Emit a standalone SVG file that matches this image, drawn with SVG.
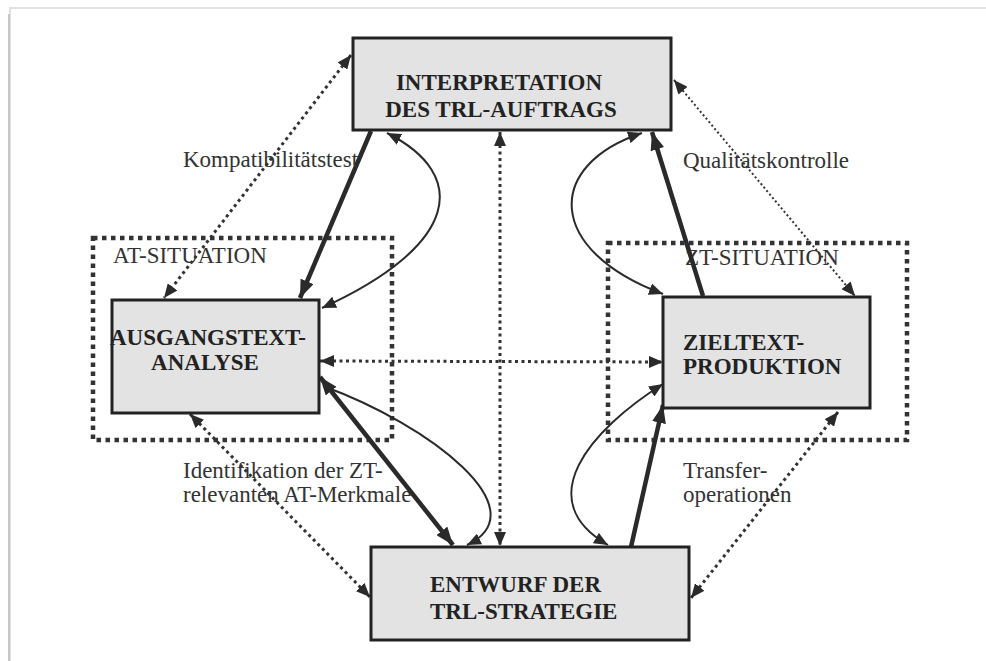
<svg xmlns="http://www.w3.org/2000/svg" width="986" height="661" viewBox="0 0 986 661">
<defs>
<style>
.box{fill:#e3e3e3;stroke:#222;stroke-width:3}
.sit{fill:none;stroke:#333;stroke-width:4.5;stroke-dasharray:4.5 4.5}
.title{font-family:"Liberation Serif","Times New Roman",serif;font-weight:bold;font-size:23px;fill:#222}
.lbl{font-family:"Liberation Serif","Times New Roman",serif;font-size:23px;fill:#333}
.dot{fill:none;stroke:#333;stroke-width:3;stroke-dasharray:3 3.5}
.dotf{fill:none;stroke:#333;stroke-width:2;stroke-dasharray:2 2.5}
.thin{fill:none;stroke:#2a2a2a;stroke-width:2}
.thick{fill:none;stroke:#2a2a2a;stroke-width:4.5}
</style>
<marker id="ah" markerUnits="userSpaceOnUse" viewBox="0 0 14 12" refX="14" refY="6" markerWidth="14" markerHeight="12" orient="auto-start-reverse"><path d="M0,0 L14,6 L0,12 z" fill="#2a2a2a"/></marker>
<marker id="ahb" markerUnits="userSpaceOnUse" viewBox="0 0 18 14" refX="18" refY="7" markerWidth="18" markerHeight="14" orient="auto-start-reverse"><path d="M0,0 L18,7 L0,14 z" fill="#2a2a2a"/></marker>
</defs>
<rect width="986" height="661" fill="#fff"/>
<path d="M10,661 L10,8 L986,8" fill="none" stroke="#e2e2e2" stroke-width="2"/>
<line x1="9" y1="14" x2="9" y2="661" stroke="#c8c8c8" stroke-width="2"/>

<g id="at-situation">
<rect class="sit" x="93" y="238" width="299" height="202"/>
<text class="lbl" x="113" y="263">AT-SITUATION</text>
</g>
<g id="zt-situation">
<rect class="sit" x="608" y="243" width="299" height="197"/>
<text class="lbl" x="685" y="265">ZT-SITUATION</text>
</g>

<g id="connectors">
<line class="dot" x1="351" y1="55" x2="164" y2="298" marker-start="url(#ah)" marker-end="url(#ah)"/>
<line class="dotf" x1="674" y1="80" x2="855" y2="296" marker-start="url(#ah)" marker-end="url(#ah)"/>
<line class="dot" x1="190" y1="414" x2="370" y2="597" marker-start="url(#ah)" marker-end="url(#ah)"/>
<line class="dot" x1="838" y1="412" x2="691" y2="598" marker-start="url(#ah)" marker-end="url(#ah)"/>
<line class="dot" x1="500" y1="132" x2="500" y2="546" marker-start="url(#ah)" marker-end="url(#ah)"/>
<line class="dot" x1="320" y1="361" x2="663" y2="362" marker-start="url(#ah)" marker-end="url(#ah)"/>
<line class="thick" x1="371" y1="131" x2="300" y2="298" stroke-width="3.5" marker-end="url(#ahb)"/>
<path class="thin" d="M387,133 C470,175 460,245 322,308" marker-start="url(#ah)" marker-end="url(#ah)"/>
<line class="thick" x1="320" y1="377" x2="453" y2="545" marker-start="url(#ahb)" marker-end="url(#ahb)"/>
<path class="thin" d="M323,386 C430,425 540,510 467,545" marker-end="url(#ah)"/>
<line class="thick" x1="703" y1="296" x2="652" y2="132" marker-end="url(#ahb)"/>
<path class="thin" d="M642,133 C545,165 545,250 663,294" marker-start="url(#ah)" marker-end="url(#ah)"/>
<line class="thick" x1="631" y1="547" x2="663" y2="405" marker-end="url(#ahb)"/>
<path class="thin" d="M663,384 C590,430 530,500 608,545" marker-start="url(#ah)" marker-end="url(#ah)"/>
</g>

<g id="interpretation">
<rect class="box" x="353" y="38" width="318" height="92"/>
<text class="title" x="499" y="90" text-anchor="middle">INTERPRETATION</text>
<text class="title" x="501" y="117" text-anchor="middle">DES TRL-AUFTRAGS</text>
</g>
<g id="ausgangstext">
<rect class="box" x="112" y="300" width="207" height="113"/>
<text class="title" x="208" y="345" text-anchor="middle">AUSGANGSTEXT-</text>
<text class="title" x="205" y="370" text-anchor="middle">ANALYSE</text>
</g>
<g id="zieltext">
<rect class="box" x="663" y="297" width="207" height="111"/>
<text class="title" x="683" y="350">ZIELTEXT-</text>
<text class="title" x="683" y="374">PRODUKTION</text>
</g>
<g id="entwurf">
<rect class="box" x="371" y="547" width="318" height="93"/>
<text class="title" x="430" y="592">ENTWURF DER</text>
<text class="title" x="430" y="619">TRL-STRATEGIE</text>
</g>

<g id="labels">
<text class="lbl" x="183" y="167">Kompatibilitätstest</text>
<text class="lbl" x="683" y="168">Qualitätskontrolle</text>
<text class="lbl" x="183" y="478">Identifikation der ZT-</text>
<text class="lbl" x="183" y="502">relevanten AT-Merkmale</text>
<text class="lbl" x="683" y="478">Transfer-</text>
<text class="lbl" x="683" y="502">operationen</text>
</g>
</svg>
